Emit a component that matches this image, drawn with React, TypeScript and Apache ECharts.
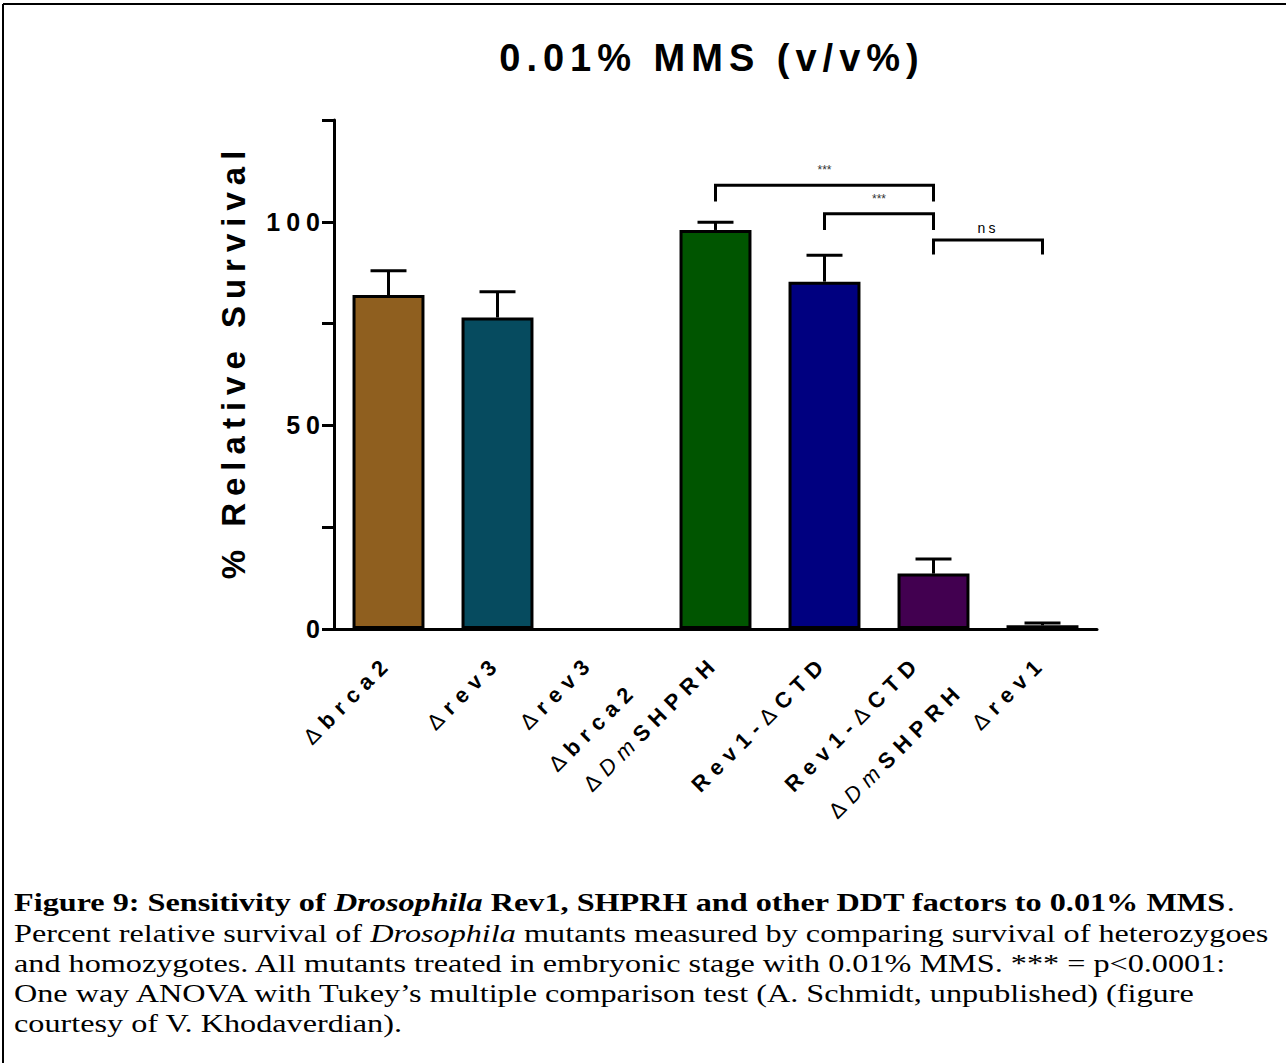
import React, { useEffect, useRef } from "react";
import * as echarts from "echarts";

const categories = [
  "Δbrca2",
  "Δrev3",
  "Δrev3\nΔbrca2",
  "ΔDmSHPRH",
  "Rev1-ΔCTD",
  "Rev1-ΔCTD\nΔDmSHPRH",
  "Δrev1",
];
const means = [82, 76.5, 0, 98, 85.3, 13.6, 0.9];
const upperErr = [88, 82.8, null, 99.9, 91.8, 17.2, 1.5];
const barColors = ["#8f5f1f", "#064b5f", "#ffffff", "#005500", "#000080", "#420050", "#8b0000"];
const yLabelTicks = [0, 50, 100];

const bracketFrom = [3, 4, 5];
const bracketTo = [5, 5, 6];
const bracketTop = [109, 102, 95.5];
const bracketFoot = [105, 98, 92];
const bracketText = ["***", "***", "ns"];

const titleText = "0.01% MMS (v/v%)";
const yName = "% Relative Survival";

const SANS = "'Liberation Sans', Arial, sans-serif";
const SERIF = "'Liberation Serif', 'Times New Roman', serif";

const X_SIZE = 22;
const X_SPACE = 7;

const CSS = `
#root text[style*="38px"] { letter-spacing: 6px; }
#root text[style*="33px"] { letter-spacing: 7px; }
#root text[style*="25px"] { letter-spacing: 6px; }
#root text[style*="22px"] { letter-spacing: ${X_SPACE}px; }
#root text[style*="14px"] { letter-spacing: 3px; }
`;

type Tok = { kind: string; text: string };

function tokenize(line: string): Tok[] {
  return line
    .split(/(Δ|Dm)/)
    .filter((t) => t.length > 0)
    .map((t) => ({ kind: t === "Δ" ? "d" : t === "Dm" ? "i" : "b", text: t }));
}

export default function App() {
  const ref = useRef<HTMLDivElement>(null);
  useEffect(() => {
    if (!ref.current) return;
    const chart = echarts.init(ref.current, null, { renderer: "svg" });

    const canvas = document.createElement("canvas");
    const ctx = canvas.getContext("2d") as CanvasRenderingContext2D;
    const fontFor = (kind: string) =>
      (kind === "b" ? "bold " : kind === "i" ? "italic " : "") + X_SIZE + "px 'Liberation Sans'";

    const LH = [77, 23];
    const rich: Record<string, any> = {
      sp: { fontFamily: SANS, fontSize: X_SIZE, width: 11, lineHeight: LH[0], color: "#000" },
    };
    const keyOf: Record<string, string> = {};
    let n = 0;
    const richLabel = (s: string) => {
      const lines = s.split("\n");
      return lines
        .map((line, li) => {
          const body = tokenize(line)
            .map((t) => {
              const id = li + ":" + t.kind + ":" + t.text;
              if (!keyOf[id]) {
                const key = "t" + n++;
                keyOf[id] = key;
                ctx.font = fontFor(t.kind);
                const w = ctx.measureText(t.text).width + t.text.length * X_SPACE;
                rich[key] = {
                  fontFamily: SANS,
                  fontSize: X_SIZE,
                  fontWeight: t.kind === "b" ? "bold" : "normal",
                  fontStyle: t.kind === "i" ? "italic" : "normal",
                  color: "#000",
                  lineHeight: LH[li] || LH[1],
                  width: w,
                };
              }
              return "{" + keyOf[id] + "|" + t.text + "}";
            })
            .join("");
          return lines.length > 1 && li === 0 ? body + "{sp| }" : body;
        })
        .join("\n");
    };
    const labelMap: Record<string, string> = {};
    categories.forEach((c) => (labelMap[c] = richLabel(c)));

    const errData = means
      .map((m, i) => (upperErr[i] == null ? null : [i, m, upperErr[i]]))
      .filter((d) => d !== null);
    const bracketData = bracketFrom.map((f, i) => [f, bracketTo[i], bracketTop[i], bracketFoot[i]]);

    const captionLines = [
      "{b|Figure 9: Sensitivity of }{bi|Drosophila}{b| Rev1, SHPRH and other DDT factors to 0.01% MMS}{n|.}",
      "{n|Percent relative survival of }{i|Drosophila}{n| mutants measured by comparing survival of heterozygoes}",
      "{n|and homozygotes. All mutants treated in embryonic stage with 0.01% MMS. *** = p<0.0001:}",
      "{n|One way ANOVA with Tukey’s multiple comparison test (A. Schmidt, unpublished) (figure}",
      "{n|courtesy of V. Khodaverdian).}",
    ];
    const captionY = [902, 933, 963, 993, 1023];
    const CAP = 26;
    const capRich = {
      b: { fontFamily: SERIF, fontSize: CAP, fontWeight: "bold", color: "#000" },
      bi: { fontFamily: SERIF, fontSize: CAP, fontWeight: "bold", fontStyle: "italic", color: "#000" },
      i: { fontFamily: SERIF, fontSize: CAP, fontStyle: "italic", color: "#000" },
      n: { fontFamily: SERIF, fontSize: CAP, color: "#000" },
    };

    chart.setOption({
      animation: false,
      backgroundColor: "#ffffff",
      title: {
        text: titleText,
        left: 712,
        top: 39,
        textAlign: "center",
        padding: 0,
        textStyle: { fontFamily: SANS, fontSize: 38, fontWeight: "bold", color: "#000" },
      },
      grid: { left: 334, right: 189, top: 120, bottom: 434, containLabel: false },
      xAxis: {
        type: "category",
        data: categories,
        axisLine: { lineStyle: { color: "#000", width: 3 } },
        axisTick: { alignWithLabel: true, length: 12, lineStyle: { color: "#000", width: 3 } },
        axisLabel: {
          interval: 0,
          rotate: 45,
          margin: 30,
          formatter: (v: string) => labelMap[v],
          rich,
        },
      },
      yAxis: {
        type: "value",
        min: 0,
        max: 125,
        interval: 25,
        name: yName,
        nameLocation: "middle",
        nameGap: 84,
        nameTextStyle: {
          fontFamily: SANS,
          fontSize: 33,
          fontWeight: "bold",
          color: "#000",
          padding: [0, 0, 0, 26],
        },
        axisLine: { show: true, lineStyle: { color: "#000", width: 3 } },
        axisTick: { show: true, length: 12, lineStyle: { color: "#000", width: 3 } },
        splitLine: { show: false },
        axisLabel: {
          margin: 8,
          fontFamily: SANS,
          fontSize: 25,
          fontWeight: "bold",
          color: "#000",
          formatter: (v: number) => (yLabelTicks.indexOf(v) >= 0 ? String(v) : ""),
        },
      },
      series: [
        {
          type: "custom",
          z: 1,
          clip: false,
          data: errData,
          encode: { x: 0, y: [1, 2] },
          renderItem: (params: any, api: any) => {
            const i = api.value(0);
            const base = api.coord([i, api.value(1)]);
            const top = api.coord([i, api.value(2)]);
            const half = api.size([1, 0])[0] * 0.165;
            return {
              type: "group",
              children: [
                {
                  type: "line",
                  shape: { x1: base[0], y1: base[1], x2: top[0], y2: top[1] },
                  style: { stroke: "#000", lineWidth: 3 },
                },
                {
                  type: "line",
                  shape: { x1: top[0] - half, y1: top[1], x2: top[0] + half, y2: top[1] },
                  style: { stroke: "#000", lineWidth: 3 },
                },
              ],
            };
          },
        },
        {
          type: "bar",
          z: 2,
          barWidth: "66%",
          data: means.map((m, i) => ({
            value: m,
            itemStyle: {
              color: barColors[i],
              borderColor: "#000",
              borderWidth: m === 0 ? 0 : 3,
            },
          })),
        },
        {
          type: "custom",
          z: 3,
          clip: false,
          data: bracketData,
          encode: { x: [0, 1], y: [2, 3] },
          renderItem: (params: any, api: any) => {
            const a = api.coord([api.value(0), api.value(2)]);
            const b = api.coord([api.value(1), api.value(2)]);
            const fa = api.coord([api.value(0), api.value(3)]);
            const txt = bracketText[params.dataIndex];
            const isNs = txt === "ns";
            return {
              type: "group",
              children: [
                {
                  type: "polyline",
                  shape: { points: [[fa[0], fa[1]], [a[0], a[1]], [b[0], b[1]], [b[0], fa[1]]] },
                  style: { stroke: "#000", lineWidth: 3, fill: "none" },
                },
                {
                  type: "text",
                  x: (a[0] + b[0]) / 2,
                  y: a[1] - (isNs ? 5 : 9),
                  style: {
                    text: txt,
                    fill: isNs ? "#000" : "#333",
                    font: (isNs ? "14px " : "12px ") + SANS,
                    align: "center",
                    verticalAlign: "bottom",
                  },
                },
              ],
            };
          },
        },
      ],
      graphic: [
        {
          type: "line",
          shape: { x1: 3, y1: 4, x2: 1286, y2: 4 },
          style: { stroke: "#000", lineWidth: 2 },
        },
        {
          type: "line",
          shape: { x1: 3, y1: 4, x2: 3, y2: 1063 },
          style: { stroke: "#000", lineWidth: 2 },
        },
        ...captionLines.map((t, k) => ({
          type: "text",
          x: 14,
          y: captionY[k],
          scaleX: 1.24,
          style: {
            text: t,
            rich: capRich,
            fill: "#000",
            font: CAP + "px " + SERIF,
            align: "left",
            verticalAlign: "middle",
          },
        })),
      ],
    });
    return () => chart.dispose();
  }, []);
  return (
    <>
      <style>{CSS}</style>
      <div
        ref={ref}
        style={{ position: "absolute", left: 0, top: 0, width: 1286, height: 1063 }}
      />
    </>
  );
}
